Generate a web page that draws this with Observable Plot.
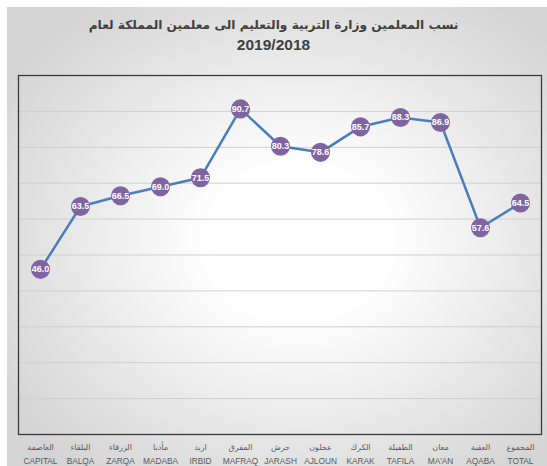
<!DOCTYPE html>
<html><head><meta charset="utf-8">
<script src="https://cdn.jsdelivr.net/npm/d3@7"></script>
<script src="https://cdn.jsdelivr.net/npm/@observablehq/plot@0.6"></script>
<style>
html,body{margin:0;padding:0;background:#fff;}
#wrap{position:relative;width:547px;height:466px;overflow:hidden;}
#bg{position:absolute;left:7px;top:7px;width:560px;height:470px;
 background:radial-gradient(ellipse 62% 62% at 52% 50%, #ffffff 25%, #d4d4d4 100%);}
#title{position:absolute;left:0;top:15px;width:547px;text-align:center;
 font-family:"Liberation Sans","DejaVu Sans",sans-serif;font-weight:bold;color:#404040;}
#t1{font-size:12.2px;line-height:20px;font-family:"DejaVu Sans",sans-serif;}
#t2{font-size:15.5px;line-height:20px;}
#chart{position:absolute;left:0;top:0;}
</style></head>
<body><div id="wrap"><div id="bg"></div>
<div id="title"><div id="t1" dir="rtl">نسب المعلمين وزارة التربية والتعليم الى معلمين المملكة لعام</div><div id="t2">2019/2018</div></div>
<div id="chart"></div></div>
<script>
const catsEn = ["CAPITAL","BALQA","ZARQA","MADABA","IRBID","MAFRAQ","JARASH","AJLOUN","KARAK","TAFILA","MA'AN","AQABA","TOTAL"];
const catsAr = ["العاصمة","البلقاء","الزرقاء","مأدبا","اربد","المفرق","جرش","عجلون","الكرك","الطفيلة","معان","العقبة","المجموع"];
const values = [46.0,63.5,66.5,69.0,71.5,90.7,80.3,78.6,85.7,88.3,86.9,57.6,64.5];
const gridVals = [10,20,30,40,50,60,70,80,90];

const data = catsEn.map((c,i)=>({cat:c, ar:catsAr[i], v:values[i]}));
const arOf = Object.fromEntries(catsEn.map((c,i)=>[c,catsAr[i]]));

const plot = Plot.plot({
  width:547, height:466,
  marginLeft:18, marginRight:6, marginTop:75, marginBottom:32,
  style:{background:"transparent", fontFamily:"Liberation Sans, DejaVu Sans, sans-serif"},
  x:{type:"point", domain:catsEn, padding:0.5, label:null},
  y:{domain:[0,100], axis:null},
  marks:[
    Plot.ruleY(gridVals, {stroke:"#cfcfcf", strokeWidth:1}),
    Plot.frame({stroke:"#3a3a3a", strokeWidth:1.3}),
    Plot.axisX({tickSize:0, tickPadding:0, dy:10, tickFormat:d=>arOf[d], fontSize:8, fill:"#595959", label:null, fontFamily:"DejaVu Sans, sans-serif"}),
    Plot.axisX({tickSize:0, tickPadding:0, dy:24, fontSize:8.3, fill:"#595959", label:null}),
    Plot.line(data, {x:"cat", y:"v", stroke:"#4a7ebb", strokeWidth:2.5}),
    Plot.dot(data, {x:"cat", y:"v", r:8.8, fill:"#8064a2", stroke:"#8064a2"}),
    Plot.text(data, {x:"cat", y:"v", text:d=>d.v.toFixed(1), fill:"white", fontSize:9, fontWeight:"bold"})
  ]
});
document.getElementById("chart").appendChild(plot);
</script></body></html>
